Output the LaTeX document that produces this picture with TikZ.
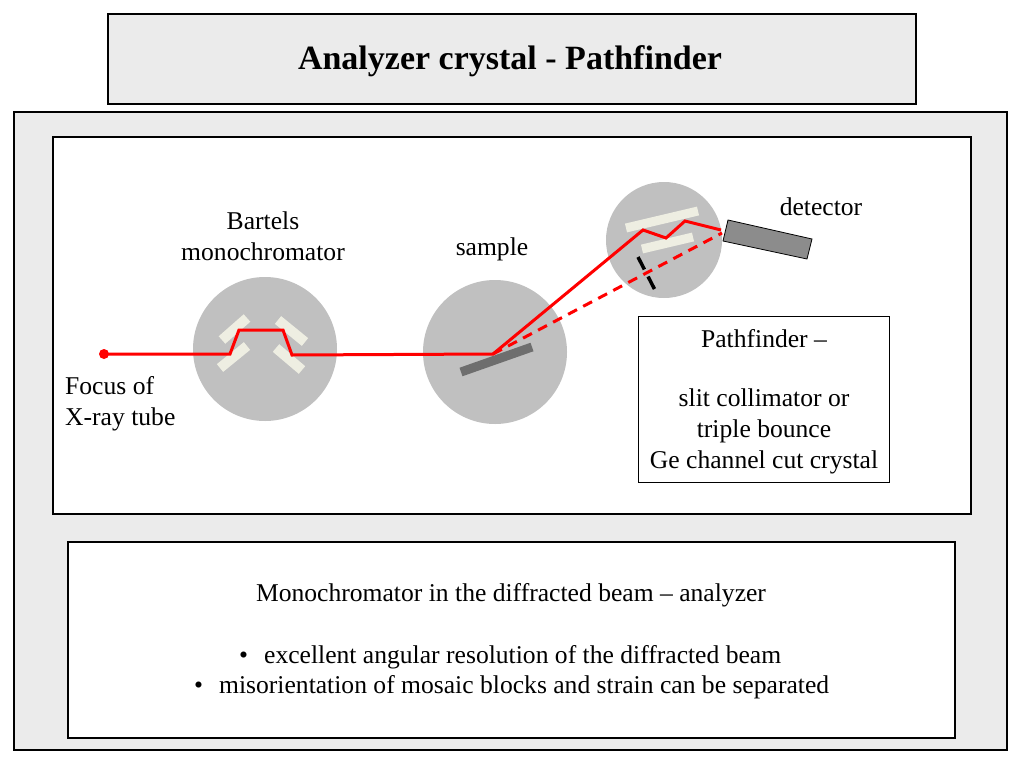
\documentclass[tikz,border=0pt]{standalone}
\usepackage{fontspec}
\setmainfont{Liberation Serif}
\begin{document}
\begin{tikzpicture}[x=1pt,y=-1pt,
  panel/.style={draw=black,line width=1.5pt},
  disc/.style={fill=discgray,draw=none},
  slab/.style={draw=slabc,line width=10pt},
  beam/.style={red,line width=3pt,line join=miter},
  dbeam/.style={red,line width=3pt,dash pattern=on 10pt off 7pt},
  txt/.style={font=\fontsize{25.6}{31}\selectfont,inner sep=0pt,align=center}]
\definecolor{bg}{HTML}{EBEBEB}
\definecolor{discgray}{HTML}{C0C0C0}
\definecolor{slabc}{HTML}{EEEEE2}
\definecolor{darkslab}{HTML}{6E6E6E}
\definecolor{detc}{HTML}{8C8C8C}
\useasboundingbox (0,0) rectangle (1024,768);
% frames
\draw[panel,fill=bg] (108,14) rectangle (916,104);
\node[txt,font=\bfseries\fontsize{34}{38}\selectfont] (title) at (510,61) {Analyzer crystal - Pathfinder};
\draw[panel,fill=bg] (14,112) rectangle (1007,750);
\draw[panel,fill=white] (53,137) rectangle (971,514);
\draw[panel,fill=white] (68,542) rectangle (955,738);
% discs
\fill[disc] (265,349) circle (72);
\fill[disc] (495,352) circle (72);
\fill[disc] (664,240) circle (58);
% Bartels slabs
\draw[slab] (222,340) -- (247,318);
\draw[slab] (220,368) -- (247,346);
\draw[slab] (278,320) -- (305,342);
\draw[slab] (276,348) -- (302,370);
% analyzer slabs
\draw[slab,line width=9pt] (626,228) -- (698,211);
\draw[slab,line width=9pt] (642,249) -- (693,237);
% sample
\draw[darkslab,line width=9pt] (461,372) -- (532,347);
% detector
\draw[fill=detc,draw=black,line width=0.8pt] (728,220) -- (812,239) -- (807,259) -- (723,241) -- cycle;
\coordinate (det) at (721,230);
% slit
\draw[black,line width=3.5pt,dash pattern=on 14pt off 8pt] (638,257) -- (656,292);
% beams
\coordinate (src) at (104,354);
\coordinate (smp) at (493,354);
\fill[red] (src) circle (5);
\draw[beam] (src) -- (230,354) -- (239,330) -- (283,330) -- (292,355) -- (smp) -- (643,230) -- (666,238) -- (685,221) -- (det);
\draw[dbeam] (smp) -- (722,233);
% labels
\node[txt] (bart) at (263,236) {Bartels\\monochromator};
\node[txt] (samp) at (492,249) {sample};
\node[txt] (detl) at (821,207) {detector};
\node[txt,align=left,anchor=west] (focus) at (65,404) {Focus of\\X-ray tube};
\draw[black,line width=0.6pt,fill=white] (638,316) rectangle (889,482);
\node[txt] (pf) at (764,339) {Pathfinder –};
\node[txt] (pf2) at (764,431) {slit collimator or\\triple bounce\\Ge channel cut crystal};
\node[txt] (mono) at (511,595) {Monochromator in the diffracted beam – analyzer};
\node[txt,anchor=west] (b1) at (239,657) {•\hspace{16pt}excellent angular resolution of the diffracted beam};
\node[txt,anchor=west] (b2) at (194,687) {•\hspace{16pt}misorientation of mosaic blocks and strain can be separated};
\end{tikzpicture}
\end{document}
